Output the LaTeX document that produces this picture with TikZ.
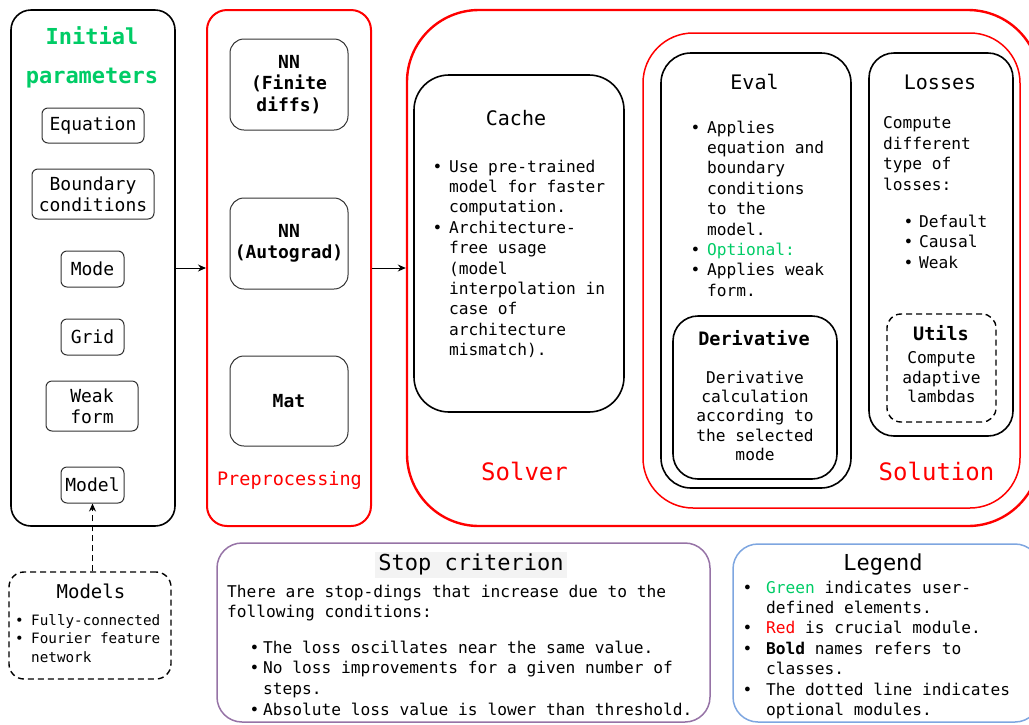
\documentclass[tikz,border=0pt]{standalone}
\usepackage{fontspec}
\setmainfont{DejaVu Sans Mono}
\setmonofont{DejaVu Sans Mono}
\usepackage{xcolor}
\usetikzlibrary{arrows.meta, positioning}
\definecolor{ParamGreen}{HTML}{00CC66}
\definecolor{CoreRed}{HTML}{FF0000}
\definecolor{StopPurple}{HTML}{9673A6}
\definecolor{LegendBlue}{HTML}{7EA6E0}
\definecolor{TitleGray}{HTML}{F3F3F3}
\newcommand{\setfs}[2]{\fontsize{#1}{#2}\selectfont}
\newcommand{\bitem}[1][16.5pt]{\makebox[#1][l]{\textbullet}}
\newcommand{\bhang}[1][16.5pt]{\hspace*{#1}}

\begin{document}
\begin{tikzpicture}[x=1pt, y=-1pt,
    frame/.style={draw, line width=1.6pt, minimum width=#1},
    redframe/.style={draw=CoreRed, line width=2pt, minimum width=#1},
    optframe/.style={draw, line width=1.4pt, dash pattern=on 6pt off 4pt, minimum width=#1},
    param/.style={draw=black!80, line width=1pt, rounded corners=6pt, align=center,
      font=\setfs{18}{21}, inner sep=0pt},
    prepbox/.style={draw=black!80, line width=1pt, rounded corners=14pt, align=center,
      font=\bfseries\setfs{18}{21.5}, inner sep=0pt, minimum width=118pt},
    txt/.style={inner sep=0pt, align=left, anchor=north west, font=\setfs{16.2}{20.4}},
    ctxt/.style={inner sep=0pt, align=center, anchor=north, font=\setfs{16.2}{19.4}},
    title/.style={inner sep=0pt, anchor=base, font=\setfs{20}{24}},
    clsname/.style={inner sep=0pt, anchor=base, font=\bfseries\setfs{18.5}{22}},
    redlabel/.style={inner sep=0pt, anchor=base, text=CoreRed, font=\setfs{24}{28}},
    link/.style={-{Stealth[length=8pt, width=7pt]}, line width=1pt}
  ]
  \useasboundingbox (0,0) rectangle (1029,724);

  % initial parameters
  \node[frame=164pt, minimum height=516pt, rounded corners=20pt] (init) at (93,268) {};
  \node[inner sep=0pt, anchor=north, align=center, text=ParamGreen,
    font=\bfseries\setfs{22}{39}] (inittitle) at (92,26.5) {Initial\\parameters};
  \node[param, minimum width=102pt, minimum height=35pt] (equation) at (93,125.5) {Equation};
  \node[param, minimum width=122pt, minimum height=50pt] (boundary) at (93,194) {Boundary\\conditions};
  \node[param, minimum width=63pt, minimum height=36pt] (mode) at (92.5,269) {Mode};
  \node[param, minimum width=63pt, minimum height=36pt] (grid) at (92.5,337) {Grid};
  \node[param, minimum width=92pt, minimum height=50pt] (weak) at (92,406) {Weak\\form};
  \node[param, minimum width=63pt, minimum height=36pt] (model) at (92.5,485) {Model};

  % preprocessing
  \node[redframe=164pt, minimum height=516pt, rounded corners=20pt] (prep) at (289,268) {};
  \node[prepbox, minimum height=91pt] (nnfd) at (289,84.5) {NN\\(Finite\\diffs)};
  \node[prepbox, minimum height=91pt] (nnag) at (289,243.5) {NN\\(Autograd)};
  \node[prepbox, minimum height=90pt] (mat) at (289,401) {Mat};
  \node[redlabel, font=\setfs{18.5}{22}] (preplabel) at (289.5,485) {Preprocessing};

  % solver
  \node[redframe=633pt, minimum height=516pt, rounded corners=72pt, line width=2.4pt] (solver) at (723.5,268) {};
  \node[frame=210pt, minimum height=337pt, rounded corners=35pt] (cache) at (519,243.5) {};
  \node[title] (cachetitle) at (516,125.5) {Cache};
  \node[txt] (cachetext) at (432.5,159.5) {%
    \bitem Use pre-trained\\
    \bhang model for faster\\
    \bhang computation.\\
    \bitem Architecture-\\
    \bhang free usage\\
    \bhang (model\\
    \bhang interpolation in\\
    \bhang case of\\
    \bhang architecture\\
    \bhang mismatch).};
  \node[redlabel] (solverlabel) at (524.5,480) {Solver};

  % solution
  \node[redframe=377pt, minimum height=475pt, rounded corners=50pt, line width=1.5pt] (solution) at (831.5,270.5) {};
  \node[frame=190pt, minimum height=435pt, rounded corners=30pt] (eval) at (756,270.5) {};
  \node[title] (evaltitle) at (754.5,89.5) {Eval};
  \node[txt] (evaltext) at (690.5,120.5) {%
    \bitem Applies\\
    \bhang equation and\\
    \bhang boundary\\
    \bhang conditions\\
    \bhang to the\\
    \bhang model.\\
    \bitem \textcolor{ParamGreen}{Optional:}\\
    \bitem Applies weak\\
    \bhang form.};
  \node[frame=164pt, minimum height=163pt, rounded corners=25pt] (deriv) at (755,397.5) {};
  \node[clsname] (derivtitle) at (754,345) {Derivative};
  \node[ctxt] (derivtext) at (755,370.5) {Derivative\\calculation\\according to\\the selected\\mode};

  \node[frame=144pt, minimum height=383pt, rounded corners=25pt] (losses) at (941,244.5) {};
  \node[title] (lossestitle) at (940,89.5) {Losses};
  \node[txt, font=\setfs{16.2}{20.6}] (lossestext) at (883,116.5) {Compute\\different\\type of\\losses:};
  \node[txt, font=\setfs{16.2}{20.6}] (losseslist) at (903.5,214.5) {%
    \bitem[15.5pt]Default\\
    \bitem[15.5pt]Causal\\
    \bitem[15.5pt]Weak};
  \node[optframe=109pt, minimum height=108pt, rounded corners=14pt] (utils) at (941.5,368) {};
  \node[clsname] (utilstitle) at (941,340) {Utils};
  \node[ctxt] (utilstext) at (941.5,351.5) {Compute\\adaptive\\lambdas};
  \node[redlabel] (solutionlabel) at (936.5,480) {Solution};

  % models
  \node[optframe=162pt, minimum height=107pt, rounded corners=15pt] (models) at (90,625.5) {};
  \node[title, font=\setfs{19}{23}] (modelstitle) at (91,598) {Models};
  \node[txt, font=\setfs{14.3}{18.5}] (modelslist) at (15,614) {%
    \bitem[16pt]Fully-connected\\
    \bitem[16pt]Fourier feature\\
    \bhang[16pt]network};

  % stop criterion
  \node[draw=StopPurple, line width=1.5pt, minimum width=493pt, minimum height=179pt,
    rounded corners=25pt] (stop) at (463.5,632.5) {};
  \node[anchor=base, fill=TitleGray, inner xsep=3pt, inner ysep=3pt, text height=15pt,
    text depth=5pt, font=\setfs{22}{26}] (stoptitle) at (471,570) {Stop criterion};
  \node[txt] (stoptext) at (227,584.5) {There are stop-dings that increase due to the\\following conditions:};
  \node[txt, font=\setfs{16.2}{20.7}] (stoplist) at (249.5,640.5) {%
    \bitem[13.5pt]The loss oscillates near the same value.\\
    \bitem[13.5pt]No loss improvements for a given number of\\
    \bhang[13.5pt]steps.\\
    \bitem[13.5pt]Absolute loss value is lower than threshold.};

  % legend
  \node[draw=LegendBlue, line width=1.5pt, minimum width=307pt, minimum height=178pt,
    rounded corners=25pt] (legend) at (886.5,633) {};
  \node[title, font=\setfs{22}{26}] (legendtitle) at (883,570) {Legend};
  \node[txt] (legendlist) at (742.5,580.5) {%
    \bitem[23.5pt]\textcolor{ParamGreen}{Green} indicates user-\\
    \bhang[23.5pt]defined elements.\\
    \bitem[23.5pt]\textcolor{CoreRed}{Red} is crucial module.\\
    \bitem[23.5pt]\textbf{Bold} names refers to\\
    \bhang[23.5pt]classes.\\
    \bitem[23.5pt]The dotted line indicates\\
    \bhang[23.5pt]optional modules.};

  \draw[link] (init) -- (prep);
  \draw[link] (prep) -- (solver);
  \draw[link, dash pattern=on 6pt off 4pt] (models.north -| model.south) -- (model.south);
\end{tikzpicture}
\end{document}
